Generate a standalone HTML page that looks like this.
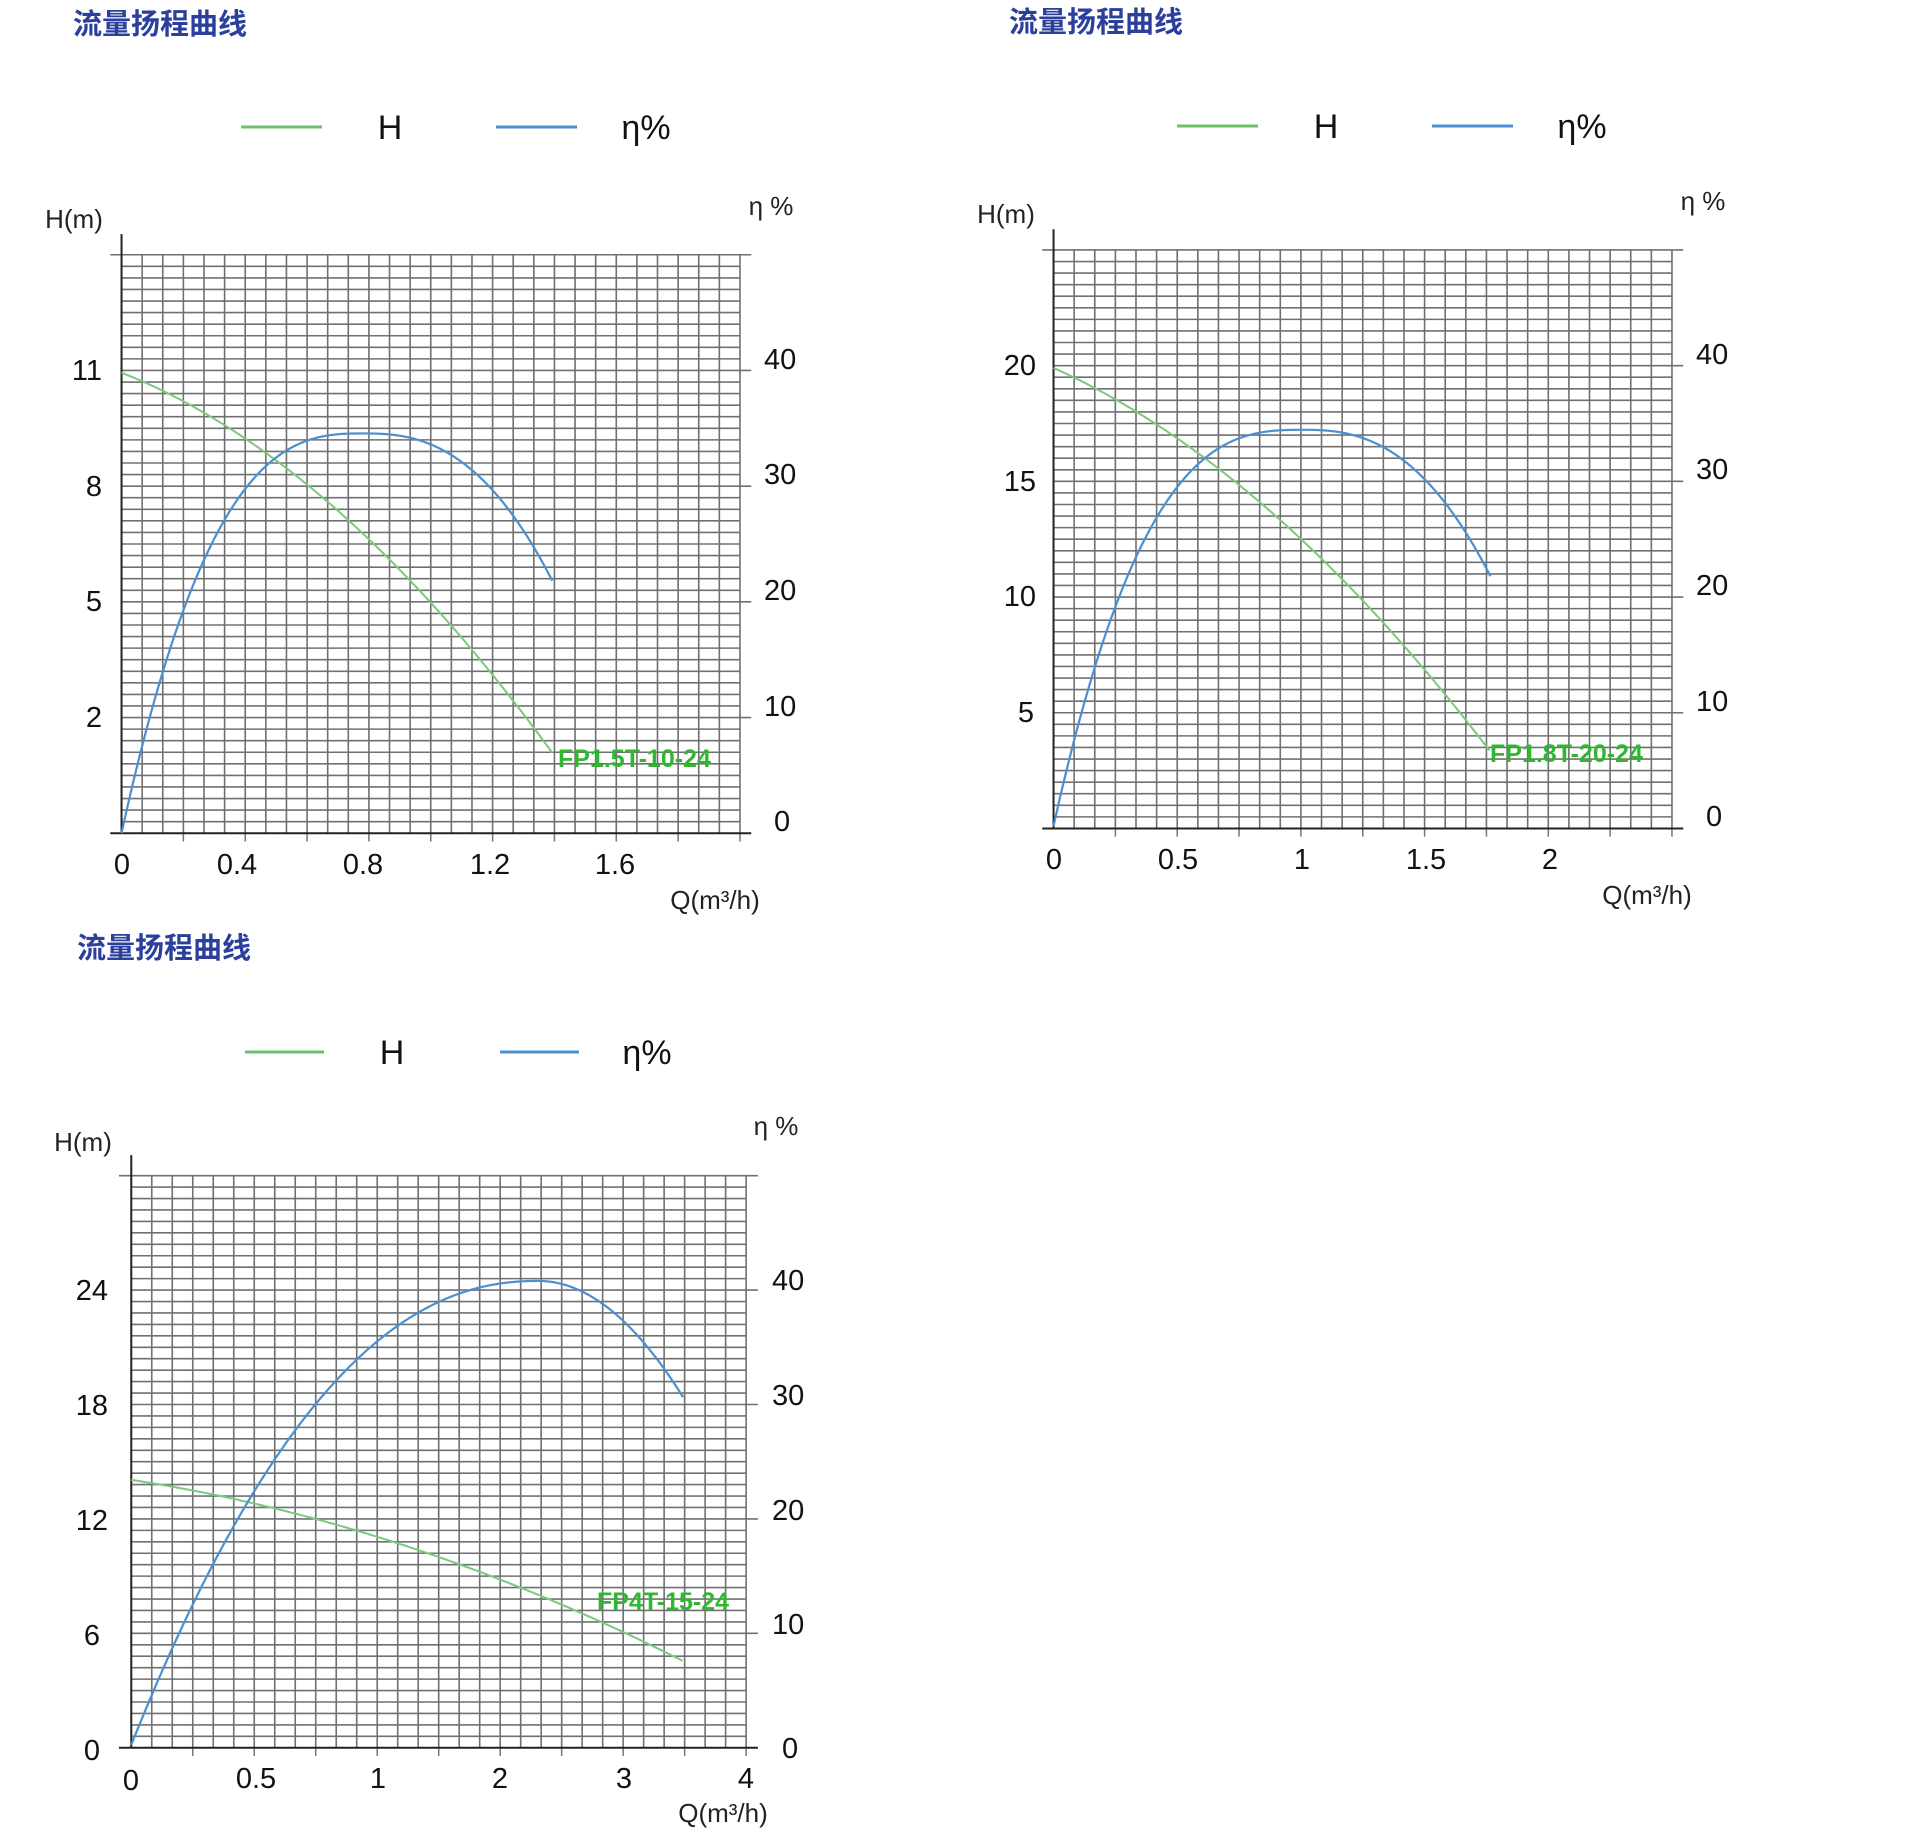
<!DOCTYPE html>
<html><head><meta charset="utf-8"><style>
html,body{margin:0;padding:0;background:#fff;}
svg{display:block;}
text{font-family:"Liberation Sans","Noto Sans CJK SC",sans-serif;}
.t{font-size:29px;fill:#111;}
.s{font-size:26px;fill:#222;}
.ttl{font-size:29px;font-weight:bold;fill:#2b3f9c;font-family:"Noto Sans CJK SC","WenQuanYi Zen Hei",sans-serif;}
.lg{font-size:34px;fill:#111;}
.fp{font-size:25px;font-weight:bold;fill:#2fb82f;}
</style></head><body>
<svg id="s" width="1920" height="1833" viewBox="0 0 1920 1833" xmlns="http://www.w3.org/2000/svg">
<g id="c1" transform="scale(0.5128,0.5897)"></g>
<g id="c2" transform="translate(932,-4.8) scale(0.5128,0.5897)"></g>
<g id="c3" transform="translate(0,920) scale(0.5128,0.585)"></g>

<text class="ttl" x="73" y="34">流量扬程曲线</text>
<line x1="241" y1="127" x2="322" y2="127" stroke="#6cc06c" stroke-width="3"/>
<text class="lg" x="390" y="139" text-anchor="middle">H</text>
<line x1="496" y1="127" x2="577" y2="127" stroke="#4a90d0" stroke-width="3"/>
<text class="lg" x="646" y="139" text-anchor="middle">η%</text>
<text class="s" x="74" y="228" text-anchor="middle">H(m)</text>
<text class="s" x="771" y="215" text-anchor="middle">η %</text>
<g class="t" text-anchor="end"><text x="102" y="380">11</text><text x="102" y="496">8</text><text x="102" y="611">5</text><text x="102" y="727">2</text></g>
<g class="t"><text x="764" y="369">40</text><text x="764" y="484">30</text><text x="764" y="600">20</text><text x="764" y="716">10</text><text x="774" y="831">0</text></g>
<g class="t" text-anchor="middle"><text x="122" y="874">0</text><text x="237" y="874">0.4</text><text x="363" y="874">0.8</text><text x="490" y="874">1.2</text><text x="615" y="874">1.6</text></g>
<text class="s" x="715" y="909" text-anchor="middle">Q(m³/h)</text>
<text class="fp" x="558" y="767">FP1.5T-10-24</text>

<g transform="translate(936,0)">
<text class="ttl" x="73" y="32">流量扬程曲线</text>
<line x1="241" y1="126" x2="322" y2="126" stroke="#6cc06c" stroke-width="3"/>
<text class="lg" x="390" y="138" text-anchor="middle">H</text>
<line x1="496" y1="126" x2="577" y2="126" stroke="#4a90d0" stroke-width="3"/>
<text class="lg" x="646" y="138" text-anchor="middle">η%</text>
</g>
<g transform="translate(932,-4.8)">
<text class="s" x="74" y="228" text-anchor="middle">H(m)</text>
<text class="s" x="771" y="215" text-anchor="middle">η %</text>
<g class="t" text-anchor="end"><text x="104" y="380">20</text><text x="104" y="496">15</text><text x="104" y="611">10</text><text x="102" y="727">5</text></g>
<g class="t"><text x="764" y="369">40</text><text x="764" y="484">30</text><text x="764" y="600">20</text><text x="764" y="716">10</text><text x="774" y="831">0</text></g>
<g class="t" text-anchor="middle"><text x="122" y="874">0</text><text x="246" y="874">0.5</text><text x="370" y="874">1</text><text x="494" y="874">1.5</text><text x="618" y="874">2</text></g>
<text class="s" x="715" y="909" text-anchor="middle">Q(m³/h)</text>
<text class="fp" x="558" y="767">FP1.8T-20-24</text>
</g>

<text class="ttl" x="77" y="958">流量扬程曲线</text>
<line x1="245" y1="1052" x2="324" y2="1052" stroke="#6cc06c" stroke-width="3"/>
<text class="lg" x="392" y="1064" text-anchor="middle">H</text>
<line x1="500" y1="1052" x2="579" y2="1052" stroke="#4a90d0" stroke-width="3"/>
<text class="lg" x="647" y="1064" text-anchor="middle">η%</text>
<text class="s" x="83" y="1151" text-anchor="middle">H(m)</text>
<text class="s" x="776" y="1135" text-anchor="middle">η %</text>
<g class="t" text-anchor="end"><text x="108" y="1300">24</text><text x="108" y="1415">18</text><text x="108" y="1530">12</text><text x="100" y="1645">6</text><text x="100" y="1760">0</text></g>
<g class="t"><text x="772" y="1290">40</text><text x="772" y="1405">30</text><text x="772" y="1520">20</text><text x="772" y="1634">10</text><text x="782" y="1758">0</text></g>
<g class="t" text-anchor="middle"><text x="131" y="1790">0</text><text x="256" y="1788">0.5</text><text x="378" y="1788">1</text><text x="500" y="1788">2</text><text x="624" y="1788">3</text><text x="746" y="1788">4</text></g>
<text class="s" x="723" y="1822" text-anchor="middle">Q(m³/h)</text>
<text class="fp" x="597" y="1610">FP4T-15-24</text>
</svg>
<script>
var NS="http://www.w3.org/2000/svg";
function el(g,tag,a){var e=document.createElementNS(NS,tag);for(var k in a)e.setAttribute(k,a[k]);e.setAttribute("vector-effect","non-scaling-stroke");g.appendChild(e);return e;}
function grid(id,X0,XR,XE,XL,T,B,gc,bc){
 var g=document.getElementById(id);
 var cw=(XR-X0)/30, rh=(B-T)/50;
 for(var i=1;i<=30;i++){var x=X0+i*cw;el(g,"line",{x1:x,y1:T,x2:x,y2:B,stroke:"#707070","stroke-width":1.6});
   if(i%3==0)el(g,"line",{x1:x,y1:B,x2:x,y2:B+14,stroke:"#777","stroke-width":1.5});}
 for(var j=0;j<50;j++){var y=T+j*rh;var maj=(j%10==0);
   el(g,"line",{x1:(j==0)?XL:X0,y1:y,x2:maj?XE:XR,y2:y,stroke:"#707070","stroke-width":1.6});}
 el(g,"line",{x1:XL,y1:B,x2:XE,y2:B,stroke:"#222","stroke-width":2});
 el(g,"line",{x1:X0,y1:T-35,x2:X0,y2:B,stroke:"#222","stroke-width":2});
 // green quadratic
 var pts=[];for(var x=X0;x<=gc.xe;x+=5){var t=x-X0;pts.push(x+","+(gc.y0+gc.b*t+gc.c*t*t).toFixed(1));}
 el(g,"polyline",{points:pts.join(" "),fill:"none",stroke:"#7cc87c","stroke-width":2,"stroke-linejoin":"round"});
 pts=[];var H=bc.B-bc.py,L=bc.xp-X0;
 for(var x=X0;x<=bc.xe;x+=4){var u=(x-X0)/L,y;
   if(u<=1)y=bc.B-H*(1-Math.pow(1-u,bc.p));else y=bc.py+bc.k*Math.pow(u-1,bc.r);
   pts.push(x+","+y.toFixed(1));}
 el(g,"polyline",{points:pts.join(" "),fill:"none",stroke:"#4a90d0","stroke-width":2.2,"stroke-linejoin":"round"});
}
function kfor(bc,X0){var u=(bc.xe-X0)/(bc.xp-X0);return (bc.ye-bc.py)/Math.pow(u-1,bc.r);}
var b1={B:1413,py:735,xp:710,p:2.77,r:2.5,xe:1080,ye:990};b1.k=kfor(b1,237);
var b2={B:1409,py:737,xp:725,p:2.84,r:2.5,xe:1090,ye:987};b2.k=kfor(b2,237);
var b3={B:1410,py:617,xp:1050,p:2.2,r:2,xe:1335,ye:820};b3.k=kfor(b3,256);
grid("c1",237,1443,1465,215,432,1413,{y0:632,b:0.3406,c:5.08e-4,xe:1080},b1);
grid("c2",237,1443,1465,215,432,1413,{y0:632,b:0.3894,c:4.396e-4,xe:1090},b2);
grid("c3",256,1455,1478,232,437,1415,{y0:957,b:0.1348,c:1.422e-4,xe:1335},b3);
</script>
</body></html>
